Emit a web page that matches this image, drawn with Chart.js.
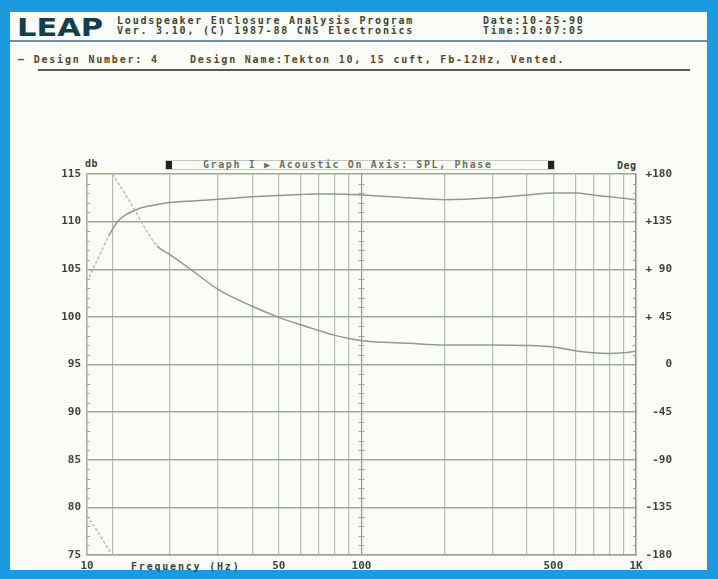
<!DOCTYPE html>
<html>
<head>
<meta charset="utf-8">
<script src="https://cdn.jsdelivr.net/npm/chart.js@4/dist/chart.umd.min.js"></script>
<style>
  body { margin: 0; width: 718px; height: 579px; background: #1c9ae0; overflow: hidden; position: relative; }
  #panel { position: absolute; left: 10px; top: 12px; width: 697px; height: 558px; background: #fbfcf8; }
  .t { position: absolute; font-family: 'DejaVu Sans Mono', monospace; font-weight: bold; font-size: 10px; letter-spacing: 1.8px; color: #3b4438; white-space: pre; line-height: 10px; }
  #logo { position: absolute; left: 17px; top: 13px; font-family: 'DejaVu Sans', sans-serif; font-weight: bold; font-size: 25px; color: #123e4e; transform: scaleX(1.22); transform-origin: left top; letter-spacing: 0px; }
  #rule1 { position: absolute; left: 10px; top: 40px; width: 697px; height: 2px; background: #6f8ea8; }
  #rule2 { position: absolute; left: 38px; top: 69px; width: 652px; height: 2px; background: #5c5a48; }
  #titlebox { position: absolute; left: 165px; top: 160px; width: 388px; height: 8px; border: 1px solid #c4c9c0; }
  .blk { position: absolute; top: 0; width: 6px; height: 8px; background: #222; }
  canvas { position: absolute; left: 0; top: 0; }
</style>
</head>
<body>
<div id="panel"></div>
<div id="logo">LEAP</div>
<div class="t" style="left:117px;top:16px;">Loudspeaker Enclosure Analysis Program</div>
<div class="t" style="left:117px;top:26px;">Ver. 3.10, (C) 1987-88 CNS Electronics</div>
<div class="t" style="left:483px;top:16px;">Date:10-25-90</div>
<div class="t" style="left:483px;top:26px;">Time:10:07:05</div>
<div id="rule1"></div>
<div class="t" style="left:18px;top:55px;color:#4f4a2c;">— Design Number: 4    Design Name:Tekton 10, 15 cuft, Fb-12Hz, Vented.</div>
<div id="rule2"></div>
<div id="titlebox"><div class="blk" style="left:0;"></div><div class="blk" style="right:0;"></div></div>
<div class="t" style="left:203px;top:160px;color:#6b7264;letter-spacing:1.6px;">Graph I ▶ Acoustic On Axis: SPL, Phase</div>
<div class="t" style="left:85px;top:159px;letter-spacing:0.5px;">db</div>
<div class="t" style="left:617px;top:161px;letter-spacing:0.5px;">Deg</div>
<div class="t" style="left:131px;top:562px;">Frequency (Hz)</div>
<canvas id="myChart" width="718" height="579"></canvas>
<script>
'use strict';

// Chart values
let freqs = [10, 11, 12, 13, 14, 15, 16, 18, 20, 25, 30, 40, 50, 60, 70, 80, 90, 100, 150, 200, 300, 400, 500, 600, 700, 800, 900, 1000];
let splDb = [103.7, 106.2, 108.5, 110.1, 110.8, 111.2, 111.5, 111.8, 112.0, 112.2, 112.35, 112.6, 112.75, 112.85, 112.9, 112.9, 112.85, 112.8, 112.5, 112.3, 112.5, 112.8, 113.0, 113.0, 112.8, 112.6, 112.45, 112.3];
// phase wraps from -180 to +180 near 12 Hz, so there is a gap there
let phaseFreqs = [10, 11, 12, 12.3, 12.35, 12.4, 14, 15, 16, 18, 20, 25, 30, 40, 50, 60, 70, 80, 90, 100, 150, 200, 300, 400, 500, 600, 700, 800, 900, 1000];
let phaseDeg = [-143, -159, -175, -180, null, 180, 158, 145, 132, 112, 104, 86, 71, 55, 44.5, 37.5, 32, 27.5, 24.5, 22.5, 20, 18.5, 18.5, 18, 16.5, 13, 11, 10.5, 11, 12.6];

let xGrid = [10, 12.4, 20, 30, 40, 50, 60, 70, 80, 90, 100, 200, 300, 400, 500, 600, 700, 800, 900, 1000];
let xLabels = { 10: '10', 50: '50', 100: '100', 500: '500', 1000: '1K' };
let dbTicks = [75, 80, 85, 90, 95, 100, 105, 110, 115];
let degLabels = { 180: '+180', 135: '+135', 90: '+ 90', 45: '+ 45', 0: '0', '-45': '-45', '-90': '-90', '-135': '-135', '-180': '-180' };

let inkColor = '#3b4438';
let curveColor = '#8f9a8c';
let faintColor = '#b7beb3';
let tickFont = { family: 'DejaVu Sans Mono', weight: 'bold', size: 11 };

function toPoints(xs, ys) {
  let pts = [];
  for (let i = 0; i < xs.length; i++) {
    pts.push({ x: xs[i], y: ys[i] });
  }
  return pts;
}

// low end of both traces prints faint and dotted
function faintBelow(limit) {
  return {
    borderColor: (c) => (c.p1.parsed.x <= limit ? faintColor : undefined),
    borderDash: (c) => (c.p1.parsed.x <= limit ? [3, 2] : undefined)
  };
}

// little tick marks on the axes and on the 100 Hz line
let minorTicks = {
  id: 'minorTicks',
  afterDraw(chart) {
    let ctx = chart.ctx;
    let x = chart.scales.x;
    let y = chart.scales.y;
    let y2 = chart.scales.y2;
    let a = chart.chartArea;
    let x100 = x.getPixelForValue(100);
    ctx.save();
    ctx.strokeStyle = '#9aa592';
    ctx.lineWidth = 1;
    for (let v = 76; v < 115; v++) {
      if (v % 5 === 0) continue;
      let py = Math.round(y.getPixelForValue(v)) + 0.5;
      ctx.beginPath();
      ctx.moveTo(a.left, py);
      ctx.lineTo(a.left + 3, py);
      ctx.moveTo(x100 - 3, py);
      ctx.lineTo(x100 + 3, py);
      ctx.stroke();
    }
    for (let d = -171; d < 180; d += 9) {
      if (d % 45 === 0) continue;
      let py = Math.round(y2.getPixelForValue(d)) + 0.5;
      ctx.beginPath();
      ctx.moveTo(a.right - 3, py);
      ctx.lineTo(a.right, py);
      ctx.stroke();
    }
    ctx.restore();
  }
};

function chart() {
  let ctx = document.getElementById('myChart');
  // eslint-disable-next-line no-undef
  let myChart = new Chart(ctx, {
    type: 'line',
    data: {
      datasets: [{
        label: 'SPL',
        data: toPoints(freqs, splDb),
        yAxisID: 'y',
        borderColor: curveColor,
        borderWidth: 1.5,
        pointRadius: 0,
        cubicInterpolationMode: 'monotone',
        segment: faintBelow(12)
      }, {
        label: 'Phase',
        data: toPoints(phaseFreqs, phaseDeg),
        yAxisID: 'y2',
        borderColor: curveColor,
        borderWidth: 1.5,
        pointRadius: 0,
        spanGaps: false,
        cubicInterpolationMode: 'monotone',
        segment: faintBelow(18)
      }]
    },
    options: {
      responsive: false,
      animation: false,
      devicePixelRatio: 1,
      layout: { padding: { top: 174, left: 0, right: 46, bottom: 0 } },
      plugins: { legend: { display: false }, tooltip: { enabled: false } },
      scales: {
        x: {
          type: 'logarithmic',
          min: 10,
          max: 1000,
          afterBuildTicks(scale) {
            scale.ticks = xGrid.map(v => ({ value: v }));
          },
          afterFit(scale) { scale.height = 24; },
          ticks: {
            autoSkip: false,
            maxRotation: 0,
            padding: 5,
            color: inkColor,
            font: tickFont,
            callback: (v) => xLabels[v] || ''
          },
          grid: {
            drawTicks: false,
            color: (c) => (c.tick && c.tick.value === 100 ? '#8f9a8a' : '#b6beb0'),
            lineWidth: 1.2
          },
          border: { color: '#9aa592', width: 1.5 }
        },
        y: {
          position: 'left',
          min: 75,
          max: 115,
          afterBuildTicks(scale) {
            scale.ticks = dbTicks.map(v => ({ value: v }));
          },
          afterFit(scale) { scale.width = 87; },
          ticks: { padding: 6, color: inkColor, font: tickFont },
          grid: { drawTicks: false, color: '#9eab94', lineWidth: 1.5 },
          border: { color: '#a6ae9e', width: 1.5 }
        },
        y2: {
          position: 'right',
          min: -180,
          max: 180,
          ticks: {
            stepSize: 45,
            crossAlign: 'far',
            color: inkColor,
            font: tickFont,
            callback: (v) => degLabels[v]
          },
          afterFit(scale) { scale.width = 36; },
          grid: { display: false },
          border: { color: '#8f9888', width: 1.5 }
        }
      }
    },
    plugins: [minorTicks]
  });
}

chart();
</script>
</body>
</html>
